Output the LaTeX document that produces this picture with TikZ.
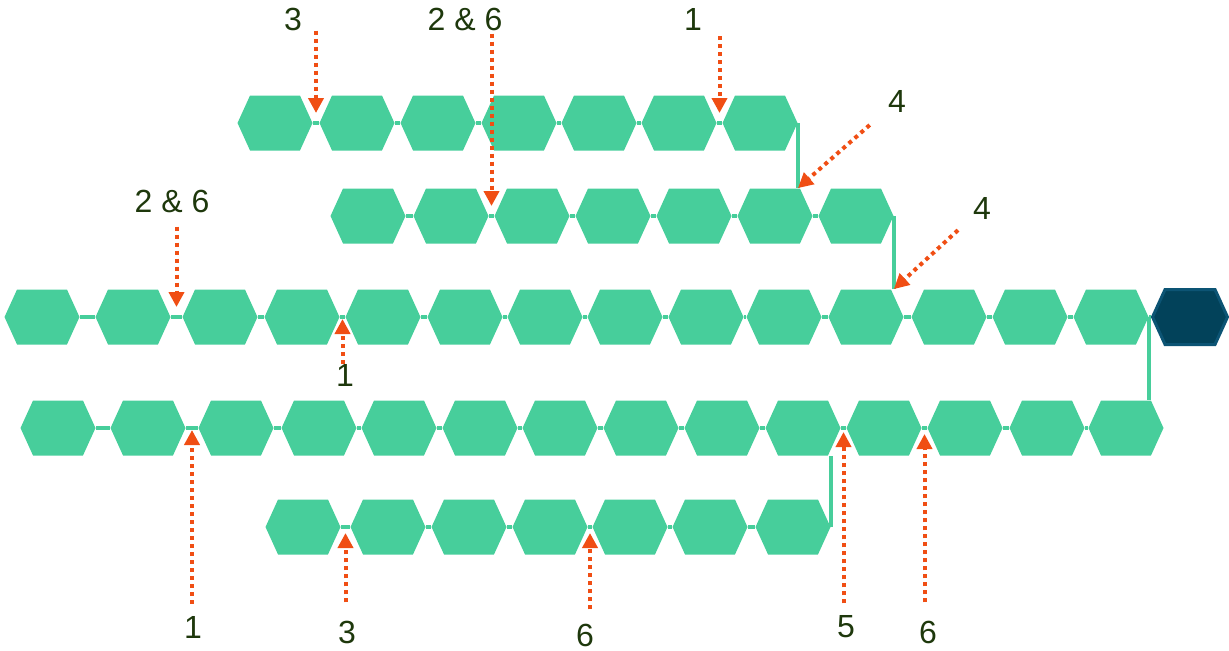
\documentclass[tikz,border=0pt]{standalone}
\usepackage{fontspec}
\setmainfont{Liberation Sans}
\usepackage{tikz}
\usetikzlibrary{shapes.symbols,arrows.meta,calc,positioning}
\definecolor{chain}{HTML}{47CE9B}
\definecolor{headfill}{HTML}{02425A}
\definecolor{headline}{HTML}{0C5474}
\definecolor{cutcol}{HTML}{F04E14}
\definecolor{numcol}{HTML}{1E380C}
\tikzset{
        hexa/.style = {signal, signal to=west and east,
            signal pointer angle=131,
            fill=chain, inner sep=0pt,
            minimum height=27.5pt,
            minimum width=37.5pt},
        hexhead/.style = {hexa, fill=headfill, draw=headline, line width=1.5pt},
        link/.style = {draw=chain, line width=2pt},
        cutarrow/.style = {draw=cutcol, line width=2pt,
            dash pattern=on 2pt off 2pt,
            -{Triangle[length=7.5pt,width=7.5pt]}},
        num/.style = {text=numcol, inner sep=0pt,
            font=\fontsize{16}{19}\selectfont},
    }

\begin{document}
\begin{tikzpicture}[x=0.5pt,y=-0.5pt]
    \useasboundingbox (0,0) rectangle (1229,650);

    % chains
    \foreach \x [count=\i] in {275,357,438,519,599,679,760}
        \node[hexa] (a\i) at (\x,123) {};
    \foreach \x [count=\i] in {368,451,532,613,694,775,856}
        \node[hexa] (b\i) at (\x,216) {};
    \foreach \x [count=\i] in {42,133,220,302,383,465,545,625,706,784,866,949,1030,1111}
        \node[hexa] (c\i) at (\x,317) {};
    \node[hexhead] (hd) at (1190,317) {};
    \foreach \x [count=\i] in {58,148,236,319,399,480,560,641,722,803,884,965,1047,1126}
        \node[hexa] (d\i) at (\x,428) {};
    \foreach \x [count=\i] in {303,388,469,550,630,710,793}
        \node[hexa] (e\i) at (\x,527) {};

    \foreach \r/\n in {a/7,b/7,c/14,d/14,e/7}
        \foreach \i in {2,...,\n} {
            \pgfmathtruncatemacro\p{\i-1}
            \draw[link] (\r\p) -- (\r\i);
            \coordinate (g\r\p) at ($(\r\p.east)!.5!(\r\i.west)$);
        }
    \draw[link] (c14) -- (hd);
    \draw[link] (a7.east) -- (a7.east |- b6.north);
    \draw[link] (b7.east) -- (b7.east |- c11.north);
    \draw[link] (c14.east) -- (c14.east |- d14.north);
    \draw[link] (e7.east) -- (e7.east |- d10.south);

    % labels
    \node[num] (t3) at (293,19) {3};
    \node[num] (t26) at (465,19) {2 \& 6};
    \node[num] (t1) at (693,19) {1};
    \node[num] (t4a) at (897,101) {4};
    \node[num] (t4b) at (982,208) {4};
    \node[num] (m26) at (172,201) {2 \& 6};
    \node[num] (m1) at (345,375) {1};
    \node[num] (u1) at (193,627) {1};
    \node[num] (u3) at (347,632) {3};
    \node[num] (u6) at (585,635) {6};
    \node[num] (u5) at (846,627) {5};
    \node[num] (u6b) at (928,632) {6};

    % cut sites
    \draw[cutarrow, shorten >=5pt] (ga1 |- t3.south) -- (ga1);
    \draw[cutarrow, shorten >=5pt] (gb2 |- t26.south) ++(0,3) -- (gb2);
    \draw[cutarrow, shorten >=5pt] (ga6 |- t1.south) ++(0,6) -- (ga6);
    \draw[cutarrow, shorten <=12pt] (t4a) -- (a7.east |- b6.north);
    \draw[cutarrow, shorten <=10pt] (t4b) -- (b7.east |- c11.north);
    \draw[cutarrow, shorten >=5pt] (gc2 |- m26.south) ++(0,14) -- (gc2);
    \draw[cutarrow, shorten >=1pt] (gc4 |- m1.north) -- (gc4);
    \draw[cutarrow, shorten >=1pt] (gd2 |- u1.north) ++(0,-12) -- (gd2);
    \draw[cutarrow, shorten >=3pt] (ge1 |- u3.north) ++(0,-18) -- (ge1);
    \draw[cutarrow, shorten >=3pt] (ge4 |- u6.north) ++(0,-14) -- (ge4);
    \draw[cutarrow, shorten >=2pt] (gd10 |- u5.north) ++(0,-12) -- (gd10);
    \draw[cutarrow, shorten >=3pt] (gd11 |- u6b.north) ++(0,-18) -- (gd11);
\end{tikzpicture}
\end{document}
